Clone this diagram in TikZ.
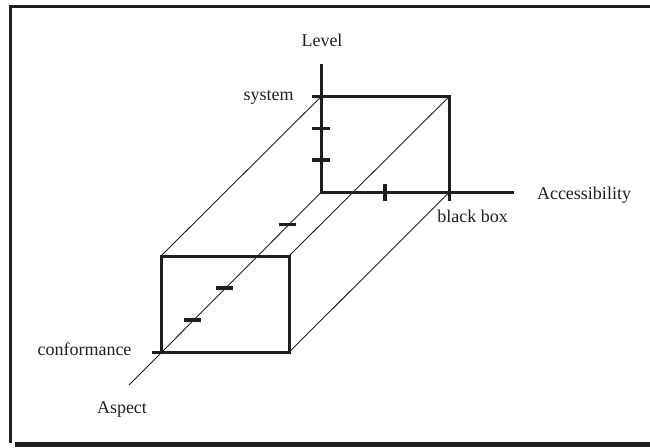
\documentclass[tikz,border=0pt]{standalone}
\usepackage{fontspec}
\setmainfont{Liberation Serif}
\begin{document}
\begin{tikzpicture}[x=1pt,y=-1pt,
  ink/.style={draw=black!88},
  thickline/.style={ink,line width=3pt},
  thinline/.style={ink,line width=0.9pt},
  tickmark/.style={ink,line width=3.2pt},
  lbl/.style={font=\fontsize{18}{20}\selectfont,text=black!88,inner sep=0pt,anchor=base}]
\useasboundingbox (0,0) rectangle (650,447);
% frame
\fill[black!88] (9,4.8) rectangle (650,7.6);
\fill[black!88] (9,4.8) rectangle (12.2,443);
\fill[black!88] (15,441.8) rectangle (650,447);
% corners
\coordinate (O) at (321,192.5);
\coordinate (L) at (321,64);
\coordinate (X) at (514,192.5);
\coordinate (A) at (129,385);
\coordinate (BTL) at (321,96.7);
\coordinate (BTLx) at (312,96.7);
\coordinate (BTR) at (449,96.7);
\coordinate (BBR) at (449,192.5);
\coordinate (BBRx) at (449,200.5);
\coordinate (FTL) at (161,256);
\coordinate (FTR) at (289,256);
\coordinate (FBR) at (289,352.3);
\coordinate (FBL) at (161,352.3);
\coordinate (FBLx) at (152,352.3);
% thin receding edges and aspect axis
\draw[thinline] (FTL) -- (BTL);
\draw[thinline] (FTR) -- (BTR);
\draw[thinline] (FBR) -- (BBR);
\draw[thinline] (A) -- (O);
% axes and faces
\draw[thickline] (L) -- (O) -- (X);
\draw[thickline] (BTLx) -- (BTR) -- (BBRx);
\draw[thickline] (FBLx) -- (FBR) -- (FTR) -- (FTL) -- (FBL);
% ticks
\coordinate (t1a) at (312,128.3); \coordinate (t1b) at (330,128.3);
\coordinate (t2a) at (312,160); \coordinate (t2b) at (330,160);
\draw[tickmark] (t1a) -- (t1b);
\draw[tickmark] (t2a) -- (t2b);
\coordinate (t3a) at (385,184); \coordinate (t3b) at (385,201);
\draw[tickmark] (t3a) -- (t3b);
\coordinate (t4a) at (279,224.5); \coordinate (t4b) at (296,224.5);
\coordinate (t5a) at (216,288); \coordinate (t5b) at (233,288);
\coordinate (t6a) at (184,320); \coordinate (t6b) at (201,320);
\draw[tickmark] (t4a) -- (t4b);
\draw[tickmark] (t5a) -- (t5b);
\draw[tickmark] (t6a) -- (t6b);
% labels
\node[lbl] (level) at (322,46) {Level};
\node[lbl] (system) at (268.5,100.5) {system};
\node[lbl] (conf) at (84.5,355) {conformance};
\node[lbl] (aspect) at (122,413.5) {Aspect};
\node[lbl] (access) at (584,199) {Accessibility};
\node[lbl] (bbox) at (472.5,222.5) {black box};
\end{tikzpicture}
\end{document}
